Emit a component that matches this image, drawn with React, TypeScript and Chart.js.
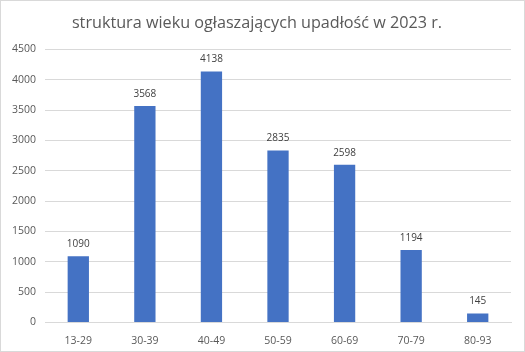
import React, { useEffect, useRef } from "react";
import { Chart, registerables } from "chart.js";

Chart.register(...registerables);

const categories = ["13-29", "30-39", "40-49", "50-59", "60-69", "70-79", "80-93"];
const values = [1090, 3568, 4138, 2835, 2598, 1194, 145];
const titleText = "struktura wieku ogłaszających upadłość w 2023 r.";

const FONT = "'Open Sans', 'Noto Sans', sans-serif";

const dataLabels = {
  id: "dataLabels",
  afterDatasetsDraw(chart: any) {
    const ctx = chart.ctx;
    const meta = chart.getDatasetMeta(0);
    ctx.save();
    ctx.font = `10px ${FONT}`;
    ctx.fillStyle = "#404040";
    ctx.textAlign = "center";
    ctx.textBaseline = "bottom";
    meta.data.forEach((bar: any, i: number) => {
      ctx.fillText(String(values[i]), bar.x, bar.y - 7);
    });
    ctx.restore();
  },
};

export default function App() {
  const ref = useRef<HTMLCanvasElement>(null);
  useEffect(() => {
    document.body.style.margin = "0";
    const chart = new Chart(ref.current!, {
      type: "bar",
      data: {
        labels: categories,
        datasets: [
          {
            data: values,
            backgroundColor: "#4472C4",
            categoryPercentage: 1,
            barPercentage: 0.32,
          },
        ],
      },
      options: {
        animation: false,
        responsive: false,
        layout: { padding: { left: 2, right: 13, top: 4, bottom: 0 } },
        plugins: {
          legend: { display: false },
          tooltip: { enabled: false },
          title: {
            display: true,
            text: titleText,
            color: "#595959",
            font: { family: FONT, size: 16.2, weight: "normal" },
            padding: { top: 9, bottom: 16 },
          },
        },
        scales: {
          x: {
            grid: { display: false },
            border: { color: "#d9d9d9" },
            ticks: { color: "#595959", font: { family: FONT, size: 10.5 }, padding: 4 },
          },
          y: {
            min: 0,
            max: 4500,
            ticks: {
              stepSize: 500,
              color: "#595959",
              font: { family: FONT, size: 10.5 },
              padding: 9,
              callback: (v: any) => String(v),
            },
            grid: { color: "#d9d9d9", drawTicks: false },
            border: { display: false },
          },
        },
      },
      plugins: [dataLabels],
    });
    return () => chart.destroy();
  }, []);
  return (
    <div style={{ width: 525, height: 352, border: "1px solid #d9d9d9", boxSizing: "border-box" }}>
      <canvas ref={ref} width={523} height={350} style={{ display: "block" }} />
    </div>
  );
}
